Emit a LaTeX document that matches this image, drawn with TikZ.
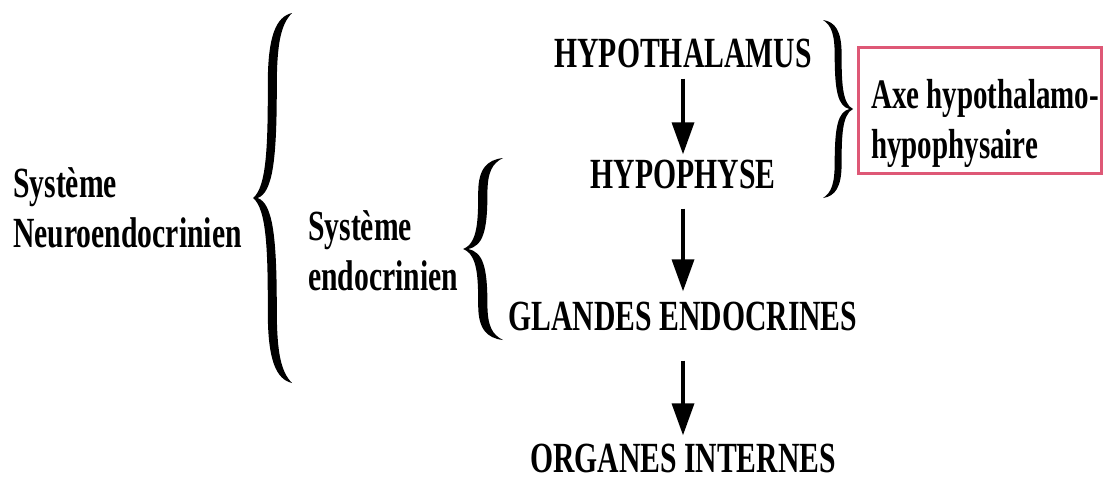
\documentclass[tikz,border=0pt]{standalone}
\usepackage{fontspec}
\setmainfont{Liberation Serif}[FakeStretch=0.69]
\usetikzlibrary{arrows.meta}
\definecolor{boxred}{RGB}{222,88,118}
\newcommand\twolines[2]{\vtop{\hbox{#1}\hbox{#2}}}
\newcommand\mybrace[4]{%
  \fill[shift={(#1,#2)}, xscale=#3, yscale=#4]
    (1,1)
    .. controls (0.6,0.98) and (0.38,0.88) .. (0.38,0.62)
    .. controls (0.38,0.3) and (0.36,0.06) .. (0,0)
    .. controls (0.36,-0.06) and (0.38,-0.3) .. (0.38,-0.62)
    .. controls (0.38,-0.88) and (0.6,-0.98) .. (1,-1)
    .. controls (0.72,-0.94) and (0.61,-0.84) .. (0.61,-0.6)
    .. controls (0.61,-0.2) and (0.5,-0.03) .. (0.12,0)
    .. controls (0.5,0.03) and (0.61,0.2) .. (0.61,0.6)
    .. controls (0.61,0.84) and (0.72,0.94) .. (1,1) -- cycle;}
\begin{document}
\begin{tikzpicture}[x=1pt,y=-1pt,
  lbl/.style={inner sep=0pt, font=\bfseries\fontsize{43}{50}\selectfont},
  arr/.style={line width=3.5pt, -{Triangle[width=22pt,length=32pt]}},
  axebox/.style={draw=boxred, line width=3pt}]
\useasboundingbox (0,0) rectangle (1103,482);
% left labels
\node[lbl, anchor=base west] (neuro) at (13,197) {\twolines{Système}{Neuroendocrinien}};
\node[lbl, anchor=base west] (endo) at (308,240) {\twolines{Système}{endocrinien}};
% braces
\mybrace{253}{198}{39}{185}
\mybrace{463}{249}{40}{91}
\mybrace{853}{109}{-30}{89}
% chain
\node[lbl, anchor=base] (hyp) at (683,67) {HYPOTHALAMUS};
\node[lbl, anchor=base] (hypo) at (683,188) {HYPOPHYSE};
\node[lbl, anchor=base] (gland) at (683,330) {GLANDES ENDOCRINES};
\node[lbl, anchor=base] (org) at (683,472) {ORGANES INTERNES};
\draw[arr, shorten <=11pt, shorten >=5pt] (hyp.south) -- (hypo.north);
\draw[arr, shorten <=20pt, shorten >=10pt] (hypo.south) -- (gland.north);
\draw[arr, shorten <=30pt, shorten >=8pt] (gland.south) -- (org.north);
% box
\draw[axebox] (858,47) rectangle (1101,173);
\node[lbl, anchor=base west, font=\bfseries\fontsize{42}{50}\selectfont] (axe) at (871,108) {\twolines{Axe hypothalamo-}{hypophysaire}};
\end{tikzpicture}
\end{document}
